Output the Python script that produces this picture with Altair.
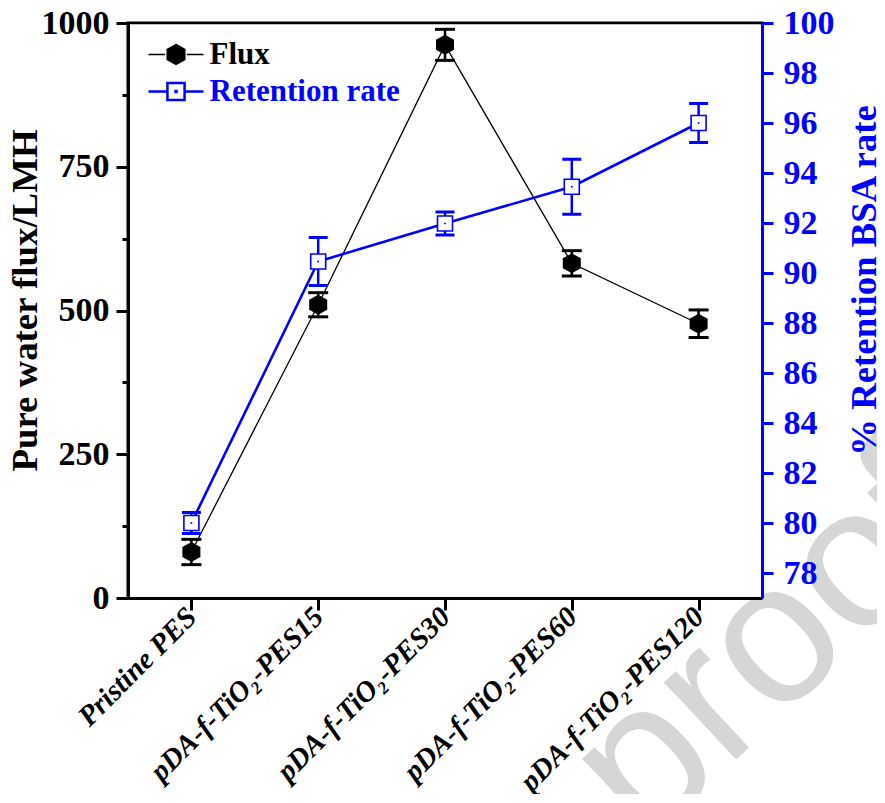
import altair as alt
import pandas as pd

samples = ["Pristine PES", "pDA-f-TiO₂-PES15", "pDA-f-TiO₂-PES30",
           "pDA-f-TiO₂-PES60", "pDA-f-TiO₂-PES120"]
flux = [80, 510, 962, 582, 477]
flux_err = [22, 21, 27, 22, 24]
retention = [80.0, 90.46, 91.98, 93.45, 96.0]
retention_err = [0.42, 0.96, 0.46, 1.1, 0.78]
series_names = ["Flux", "Retention rate"]
flux_ticks = [0, 125, 250, 375, 500, 625, 750, 875, 1000]
retention_ticks = list(range(78, 101, 2))
watermark = ["Journal Pre-proof"]

FONT = "Liberation Serif"
BLUE = "#0000ff"
W, H = 634, 575

HEX = "M0,-1L0.9,-0.5L0.9,0.5L0,1L-0.9,0.5L-0.9,-0.5Z"
LEG_FLUX = ("M-1.57,0L-0.62,0M0.62,0L1.57,0"
            "M0,-0.57L0.5,-0.29L0.5,0.29L0,0.57L-0.5,0.29L-0.5,-0.29Z")
LEG_RET = ("M-1.57,0L-0.55,0M0.55,0L1.57,0"
           "M-0.49,-0.49L0.49,-0.49L0.49,0.49L-0.49,0.49Z"
           "M-0.03,-0.03L0.03,-0.03L0.03,0.03L-0.03,0.03Z")

df_f = pd.DataFrame({"sample": samples, "v": flux,
                     "lo": [a - b for a, b in zip(flux, flux_err)],
                     "hi": [a + b for a, b in zip(flux, flux_err)]})
df_r = pd.DataFrame({"sample": samples, "v": retention,
                     "lo": [a - b for a, b in zip(retention, retention_err)],
                     "hi": [a + b for a, b in zip(retention, retention_err)]})

x_axis = alt.Axis(title=None, labelAngle=315, labelAlign="right", labelBaseline="middle",
                  labelFont=FONT, labelFontSize=29, labelFontWeight="bold",
                  labelFontStyle="italic", labelColor="black", labelPadding=2,
                  tickSize=12, tickWidth=3, tickColor="black",
                  domainColor="black", domainWidth=3, labelLimit=400, zindex=1)
x_enc = alt.X("sample:N", sort=samples, scale=alt.Scale(type="point", padding=0.5),
              axis=x_axis)

y_left_scale = alt.Scale(domain=[0, 1000], nice=False, zero=False)
y_left_axis = alt.Axis(
    title="Pure water flux/LMH", values=flux_ticks,
    labelExpr="datum.value % 250 === 0 ? datum.label : ''",
    tickSize={"condition": {"test": "datum.value % 250 === 0", "value": 12}, "value": 6},
    tickWidth=3, tickColor="black", domainColor="black", domainWidth=3,
    labelFont=FONT, labelFontSize=34, labelFontWeight="bold", labelColor="black",
    labelPadding=7, grid=False, format="d", zindex=1,
    titleFont=FONT, titleFontSize=36.8, titleFontWeight="bold", titleColor="black",
    titleAngle=270, titleAlign="center", titleBaseline="middle",
    titleX=-102.5, titleY=277)

y_right_scale = alt.Scale(domain=[77, 100], nice=False, zero=False)
y_right_axis = alt.Axis(
    title="% Retention BSA rate", values=retention_ticks, orient="right",
    tickSize=11, tickWidth=3, tickColor=BLUE, domainColor=BLUE, domainWidth=3,
    labelFont=FONT, labelFontSize=34, labelFontWeight="bold", labelColor=BLUE,
    labelPadding=10, grid=False, format="d", zindex=1,
    titleFont=FONT, titleFontSize=36.8, titleFontWeight="bold", titleColor=BLUE,
    titleAngle=270, titleAlign="center", titleBaseline="middle",
    titleX=102, titleY=257)

def yf(field):
    return alt.Y(f"{field}:Q", scale=y_left_scale, axis=y_left_axis)

def yr(field):
    return alt.Y(f"{field}:Q", scale=y_right_scale, axis=y_right_axis)

# background watermark (behind the white plot area)
wm = alt.Chart(pd.DataFrame({"t": watermark})).mark_text(
    font="Liberation Sans", fontSize=200, angle=317, align="right",
    baseline="alphabetic", color="#d6d6d6").encode(
    text="t:N", x=alt.value(850), y=alt.value(511))
mask = alt.Chart(pd.DataFrame({"t": watermark})).mark_rect(
    color="white", opacity=1).encode(
    x=alt.value(0), x2=alt.value(W), y=alt.value(1.5), y2=alt.value(H))

bf = alt.Chart(df_f).encode(x=x_enc)
flux_layer = alt.layer(
    bf.mark_line(color="black", strokeWidth=1.3).encode(y=yf("v")),
    bf.mark_rule(color="black", strokeWidth=2.5).encode(y=yf("lo"), y2="hi:Q"),
    bf.mark_tick(color="black", size=20, thickness=3, opacity=1).encode(y=yf("lo")),
    bf.mark_tick(color="black", size=20, thickness=3, opacity=1).encode(y=yf("hi")),
    bf.mark_point(shape=HEX, size=400, filled=True, color="black", opacity=1).encode(y=yf("v")),
)

br = alt.Chart(df_r).encode(x=x_enc)
ret_layer = alt.layer(
    br.mark_line(color=BLUE, strokeWidth=2.6).encode(y=yr("v")),
    br.mark_rule(color=BLUE, strokeWidth=2.5).encode(y=yr("lo"), y2="hi:Q"),
    br.mark_tick(color=BLUE, size=19, thickness=3, opacity=1).encode(y=yr("lo")),
    br.mark_tick(color=BLUE, size=19, thickness=3, opacity=1).encode(y=yr("hi")),
    br.mark_point(shape="square", size=225, fill="white", stroke=BLUE, strokeWidth=1.6,
                  opacity=1, fillOpacity=1).encode(y=yr("v")),
    br.mark_point(shape="square", size=3, filled=True, color=BLUE, opacity=1).encode(y=yr("v")),
)

leg = alt.Legend(
    title=None, orient="none", legendX=32.5, legendY=16, padding=0,
    symbolSize=1225, symbolOpacity=1,
    symbolStrokeWidth={"expr": "datum.label === 'Flux' ? 1.5 : 2.5"},
    labelColor={"expr": "datum.label === 'Flux' ? 'black' : '#0000ff'"},
    labelFont=FONT, labelFontSize=31, labelFontWeight="bold", labelOffset=18,
    labelLimit=400, rowPadding=5)

legend_layer = alt.Chart(pd.DataFrame({"series": series_names})).mark_point(
    opacity=0, size=1225).encode(
    fill=alt.Fill("series:N", scale=alt.Scale(domain=series_names, range=["black", "white"]), legend=leg),
    stroke=alt.Stroke("series:N", scale=alt.Scale(domain=series_names, range=["black", BLUE]), legend=leg),
    shape=alt.Shape("series:N", scale=alt.Scale(domain=series_names, range=[LEG_FLUX, LEG_RET]), legend=leg),
)

chart = alt.layer(
    wm, mask,
    alt.layer(flux_layer, legend_layer),
    ret_layer,
).resolve_scale(y="independent").properties(
    width=W, height=H,
    autosize=alt.AutoSizeParams(type="none"),
    padding={"left": 120, "top": 15, "right": 115, "bottom": 196},
    background="white",
).configure_view(stroke="black", strokeWidth=3, fill="white")

chart.save("out.html", embed_options={"renderer": "svg", "actions": False})
